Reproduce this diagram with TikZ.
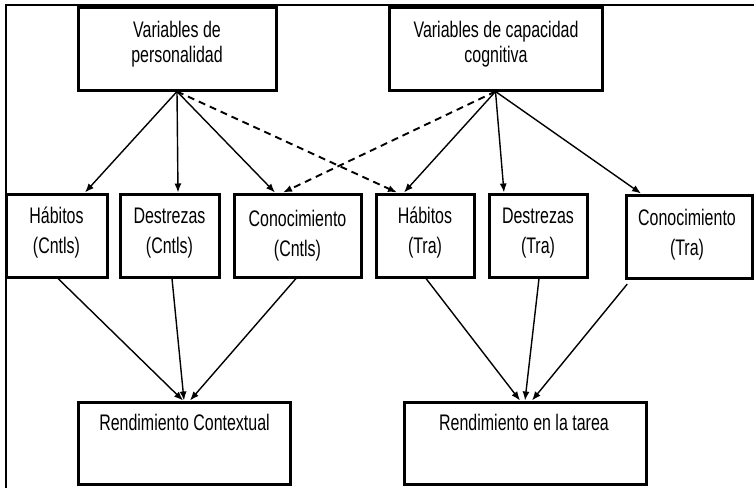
\documentclass[tikz,border=0pt]{standalone}
\usepackage{fontspec}
\setmainfont{Liberation Sans}[FakeStretch=0.71]
\usetikzlibrary{arrows.meta}
\begin{document}
\begin{tikzpicture}[x=1pt,y=-1pt,
  box/.style={draw=black, line width=3pt, fill=white, inner sep=0pt},
  txt/.style={inner sep=0pt, align=center, font=\fontsize{22.5}{25}\selectfont},
  txtm/.style={inner sep=0pt, align=center, font=\fontsize{22.5}{30}\selectfont},
  arr/.style={line width=1.4pt, -{Latex[length=9pt,width=7pt]}},
  darr/.style={line width=1.9pt, dash pattern=on 7pt off 5pt, -{Latex[length=9pt,width=7pt]}},
  frame/.style={line width=2.8pt}
]
\useasboundingbox (0,0) rectangle (754,487);
\clip (0,0) rectangle (754,487);
% outer frame
\draw[frame] (5,5) -- (760,5);
\draw[frame] (6,5) -- (6,495);
% top boxes
\node[box, minimum width=198pt, minimum height=82pt] (tl) at (177,49) {};
\node[box, minimum width=213pt, minimum height=82pt] (tr) at (495.5,49) {};
% middle boxes
\node[box, minimum width=101pt, minimum height=83pt] (hc) at (56.5,235.5) {};
\node[box, minimum width=99pt, minimum height=83pt] (dc) at (169.5,235.5) {};
\node[box, minimum width=127pt, minimum height=83pt] (cc) at (297.5,235.5) {};
\node[box, minimum width=98pt, minimum height=83pt] (ht) at (425,235.5) {};
\node[box, minimum width=98pt, minimum height=83pt] (dt) at (538,235.5) {};
\node[box, minimum width=126pt, minimum height=83pt] (ct) at (689,236.5) {};
% bottom boxes
\node[box, minimum width=212pt, minimum height=82pt] (rc) at (184,443) {};
\node[box, minimum width=242pt, minimum height=82pt] (rt) at (525,443) {};
% texts
\node[txt, anchor=north] (tlt) at (177,21) {Variables de\\personalidad};
\node[txt, anchor=north] (trt) at (496,21) {Variables de capacidad\\cognitiva};
\node[txtm, anchor=north] (hct) at (56.5,207) {Hábitos\\(Cntls)};
\node[txtm, anchor=north] (dct) at (169.5,208) {Destrezas\\(Cntls)};
\node[txtm, anchor=north] (cct) at (297.5,209.5) {Conocimiento\\(Cntls)};
\node[txtm, anchor=north] (htt) at (425,207) {Hábitos\\(Tra)};
\node[txtm, anchor=north] (dtt) at (538,208) {Destrezas\\(Tra)};
\node[txtm, anchor=north] (ctt) at (687,209) {Conocimiento\\(Tra)};
\node[txt, anchor=north] (rct) at (184.5,414) {Rendimiento Contextual};
\node[txt, anchor=north] (rtt) at (524,414) {Rendimiento en la tarea};
% arrows top -> middle
\draw[arr] (tl.south) -- ([xshift=28.5pt]hc.north);
\draw[arr] (tl.south) -- ([xshift=8.5pt]dc.north);
\draw[arr] (tl.south) -- ([xshift=-22.5pt]cc.north);
\draw[darr] (tl.south) -- ([xshift=-28pt]ht.north);
\draw[darr] (tr.south) -- ([xshift=-14.5pt]cc.north);
\draw[arr] (tr.south) -- ([xshift=-21pt]ht.north);
\draw[arr] (tr.south) -- ([xshift=-34pt]dt.north);
\draw[arr] (tr.south) -- ([xshift=-48pt]ct.north);
% arrows middle -> bottom
\draw[arr] ([xshift=1.5pt]hc.south) -- ([xshift=-1pt]rc.north);
\draw[arr] ([xshift=2.5pt]dc.south) -- ([xshift=0pt]rc.north);
\draw[arr] ([xshift=-1.5pt]cc.south) -- ([xshift=6pt]rc.north);
\draw[arr] ([xshift=1pt]ht.south) -- ([xshift=-5pt]rt.north);
\draw[arr] ([xshift=1pt]dt.south) -- ([xshift=0pt]rt.north);
\draw[arr, shorten <=6pt] ([xshift=-58pt]ct.south) -- ([xshift=7pt]rt.north);
\end{tikzpicture}
\end{document}
